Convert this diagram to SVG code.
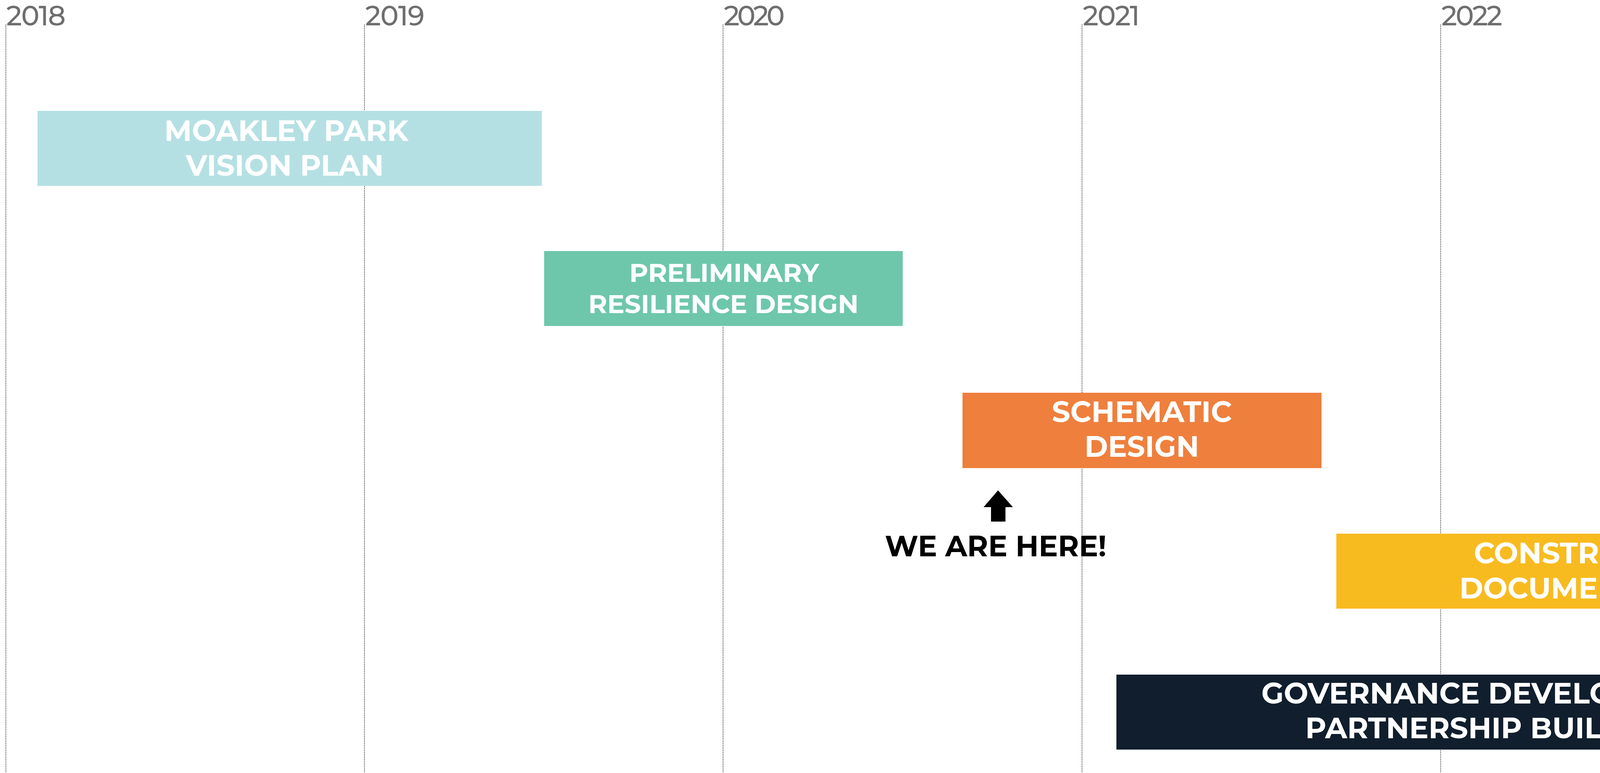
<svg xmlns="http://www.w3.org/2000/svg" width="4845" height="1980" viewBox="0 0 4845 1980">
<style>
.year{font-family:"Montserrat","Liberation Sans",Arial,sans-serif;font-weight:500;font-size:70px;fill:#6E6E6E;}
.grid{stroke:#4A4A4A;stroke-width:2.2;stroke-dasharray:2.2 2.3;fill:none;}
.lbl{font-family:"Montserrat","Liberation Sans",Arial,sans-serif;font-weight:700;font-size:74px;fill:#FFFFFF;text-anchor:middle;}
.lbl-s{font-size:66px;}
.dark{fill:#000000;}
</style>
<rect x="0" y="0" width="4845" height="1980" fill="#FFFFFF"/>
<g id="timeline-grid">
<line class="grid" x1="15" y1="63" x2="15" y2="1980"/>
<line class="grid" x1="933" y1="63" x2="933" y2="1980"/>
<line class="grid" x1="1851" y1="63" x2="1851" y2="1980"/>
<line class="grid" x1="2770" y1="63" x2="2770" y2="1980"/>
<line class="grid" x1="3688" y1="63" x2="3688" y2="1980"/>
<line class="grid" x1="4607" y1="63" x2="4607" y2="1980"/>
</g>
<g id="years">
<text class="year" x="16" y="65" textLength="152">2018</text>
<text class="year" x="935" y="65" textLength="152">2019</text>
<text class="year" x="1853" y="65" textLength="156">2020</text>
<text class="year" x="2772" y="65" textLength="146">2021</text>
<text class="year" x="3690" y="65" textLength="156">2022</text>
<text class="year" x="4610" y="65" textLength="162">2023</text>
</g>
<g id="moakley-park-vision-plan">
<rect x="96" y="284" width="1291" height="192" fill="#B5E0E3"/>
<text class="lbl" x="733" y="361" textLength="625" lengthAdjust="spacingAndGlyphs">MOAKLEY PARK</text>
<text class="lbl" x="729" y="450" textLength="507" lengthAdjust="spacingAndGlyphs">VISION PLAN</text>
</g>
<g id="preliminary-resilience-design">
<rect x="1393" y="643" width="918" height="192" fill="#6EC7AB"/>
<text class="lbl lbl-s" x="1854" y="722" textLength="486" lengthAdjust="spacingAndGlyphs">PRELIMINARY</text>
<text class="lbl lbl-s" x="1852" y="802" textLength="692" lengthAdjust="spacingAndGlyphs">RESILIENCE DESIGN</text>
</g>
<g id="schematic-design">
<rect x="2464" y="1006" width="919" height="193" fill="#EF7F3D"/>
<text class="lbl" x="2923" y="1081" textLength="461" lengthAdjust="spacingAndGlyphs">SCHEMATIC</text>
<text class="lbl" x="2923" y="1170" textLength="293" lengthAdjust="spacingAndGlyphs">DESIGN</text>
</g>
<g id="we-are-here">
<polygon points="2555,1256 2593,1299 2574,1299 2574,1336 2537,1336 2537,1299 2518,1299" fill="#000000"/>
<text class="lbl dark" x="2549" y="1425" textLength="567" lengthAdjust="spacingAndGlyphs">WE ARE HERE!</text>
</g>
<g id="construction-documentation">
<polygon points="3421,1367 4719,1367 4842,1463 4719,1559 3421,1559" fill="#F8BB1F"/>
<text class="lbl" x="4085" y="1443" textLength="624" lengthAdjust="spacingAndGlyphs">CONSTRUCTION</text>
<text class="lbl" x="4087" y="1533" textLength="702" lengthAdjust="spacingAndGlyphs">DOCUMENTATION</text>
</g>
<g id="governance-development-partnership-building">
<polygon points="2858,1728 4719,1728 4842,1824 4719,1920 2858,1920" fill="#101E2D"/>
<text class="lbl" x="3821" y="1802" textLength="1184" lengthAdjust="spacingAndGlyphs">GOVERNANCE DEVELOPMENT</text>
<text class="lbl" x="3822" y="1891" textLength="961" lengthAdjust="spacingAndGlyphs">PARTNERSHIP BUILDING</text>
</g>
</svg>
